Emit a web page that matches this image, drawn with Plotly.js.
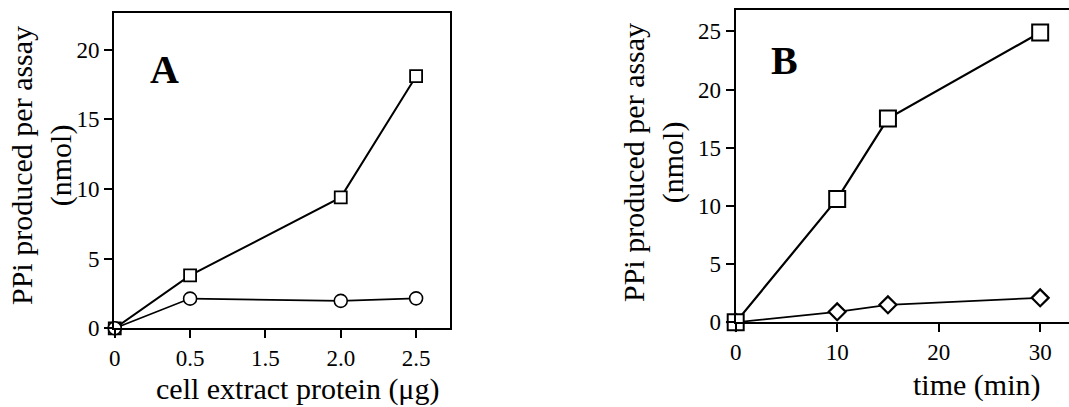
<!DOCTYPE html>
<html>
<head>
<meta charset="utf-8">
<script src="https://cdn.plot.ly/plotly-3.0.1.min.js"></script>
<style>html,body{margin:0;padding:0;background:#fff;}#chart{width:1069px;height:407px;}</style>
</head>
<body>
<div id="chart"></div>
<script>
// Panel A data
const aTickLabels = ['0', '0.5', '1.5', '2.0', '2.5'];
const aProtein = ['0', '0.5', '2.0', '2.5'];
const aSquares = [0, 3.8, 9.4, 18.1];
const aCircles = [0, 2.13, 1.97, 2.15];
// Panel B data
const bTime = [0, 10, 15, 30];
const bSquares = [0, 10.6, 17.5, 24.9];
const bDiamonds = [0, 0.9, 1.5, 2.1];

const W = 1069, H = 407;
const font = 'Liberation Serif';
const lineStyle = {color: '#000', width: 2};

const traces = [
  {x: aProtein, y: aSquares, xaxis: 'x', yaxis: 'y', mode: 'lines+markers', cliponaxis: false,
   line: lineStyle, marker: {symbol: 'square', size: 12, color: '#fff', line: {color: '#000', width: 1.8}}},
  {x: aProtein, y: aCircles, xaxis: 'x', yaxis: 'y', mode: 'lines+markers', cliponaxis: false,
   line: {color: '#000', width: 1.6}, marker: {symbol: 'circle', size: 13, color: '#fff', line: {color: '#000', width: 1.6}}},
  {x: bTime, y: bDiamonds, xaxis: 'x2', yaxis: 'y2', mode: 'lines+markers', cliponaxis: false,
   line: {color: '#000', width: 1.8}, marker: {symbol: 'diamond', size: 13, color: '#fff', line: {color: '#000', width: 2.2}}},
  {x: bTime, y: bSquares, xaxis: 'x2', yaxis: 'y2', mode: 'lines+markers', cliponaxis: false,
   line: {color: '#000', width: 2.2}, marker: {symbol: 'square', size: 16, color: '#fff', line: {color: '#000', width: 2}}}
];

const axBase = {
  showgrid: false, zeroline: false, showline: true, linecolor: '#000', linewidth: 2,
  ticks: 'outside', ticklen: 8, tickwidth: 2, tickcolor: '#000',
  tickfont: {family: font, size: 23, color: '#000'}, fixedrange: true
};

const layout = {
  width: W, height: H,
  margin: {l: 0, r: 0, t: 0, b: 0},
  paper_bgcolor: '#fff', plot_bgcolor: '#fff',
  showlegend: false,
  font: {family: font, color: '#000'},
  xaxis: Object.assign({}, axBase, {
    type: 'category', categoryorder: 'array', categoryarray: aTickLabels,
    range: [-0.01, 4.45], domain: [114 / W, 450 / W], anchor: 'y', mirror: true
  }),
  yaxis: Object.assign({}, axBase, {
    range: [0, 22.66], tickvals: [0, 5, 10, 15, 20],
    domain: [(H - 328.3) / H, (H - 12.7) / H], anchor: 'x', mirror: true
  }),
  xaxis2: Object.assign({}, axBase, {
    range: [0, 32.84], tickvals: [0, 10, 20, 30],
    domain: [735.7 / W, 1], anchor: 'y2', mirror: true
  }),
  yaxis2: Object.assign({}, axBase, {
    range: [0, 26.83], tickvals: [0, 5, 10, 15, 20, 25],
    domain: [(H - 322.3) / H, (H - 10) / H], anchor: 'x2'
  }),
  annotations: [
    {text: 'PPi produced per assay<br>(nmol)', textangle: -90, xref: 'paper', yref: 'paper',
     x: 42 / W, y: 1 - 166 / H, xanchor: 'center', yanchor: 'middle', showarrow: false,
     font: {family: font, size: 30, color: '#000'}},
    {text: 'PPi produced per assay<br>(nmol)', textangle: -90, xref: 'paper', yref: 'paper',
     x: 654 / W, y: 1 - 163 / H, xanchor: 'center', yanchor: 'middle', showarrow: false,
     font: {family: font, size: 30, color: '#000'}},
    {text: 'cell extract protein (μg)', xref: 'paper', yref: 'paper',
     x: 297 / W, y: 1 - 389 / H, xanchor: 'center', yanchor: 'middle', showarrow: false,
     font: {family: font, size: 30, color: '#000'}},
    {text: 'time (min)', xref: 'paper', yref: 'paper',
     x: 976 / W, y: 1 - 385 / H, xanchor: 'center', yanchor: 'middle', showarrow: false,
     font: {family: font, size: 30, color: '#000'}},
    {text: '<b>A</b>', xref: 'paper', yref: 'paper',
     x: 164 / W, y: 1 - 70 / H, xanchor: 'center', yanchor: 'middle', showarrow: false,
     font: {family: font, size: 40, color: '#000'}},
    {text: '<b>B</b>', xref: 'paper', yref: 'paper',
     x: 784 / W, y: 1 - 60 / H, xanchor: 'center', yanchor: 'middle', showarrow: false,
     font: {family: font, size: 40, color: '#000'}}
  ]
};

Plotly.newPlot('chart', traces, layout, {displayModeBar: false, staticPlot: true});
</script>
</body>
</html>
